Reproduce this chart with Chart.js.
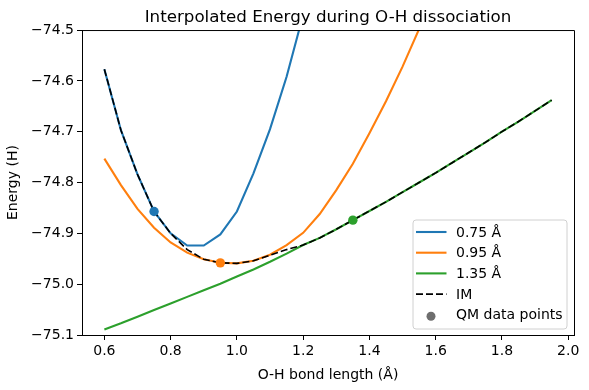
<!DOCTYPE html>
<html>
<head>
<meta charset="utf-8">
<script src="https://cdn.jsdelivr.net/npm/chart.js@4/dist/chart.umd.min.js"></script>
<style>
  html, body { margin: 0; padding: 0; background: #fff; }
</style>
</head>
<body>
<canvas id="energy-chart" width="589" height="390"></canvas>
<script>
// bond length grid (Å)
const bondLength = [0.6, 0.65, 0.7, 0.75, 0.8, 0.85, 0.9, 0.95, 1.0, 1.05, 1.1, 1.15, 1.2, 1.25,
                    1.3, 1.35, 1.4, 1.45, 1.5, 1.55, 1.6, 1.65, 1.7, 1.75, 1.8, 1.85, 1.9, 1.95];

// energies (H)
const energy075 = [-74.577, -74.697, -74.784, -74.857, -74.900, -74.924, -74.924, -74.902, -74.857, -74.782,
                   -74.695, -74.592, -74.470, -74.330, null, null, null, null, null, null,
                   null, null, null, null, null, null, null, null];
const energy095 = [-74.753, -74.805, -74.852, -74.889, -74.918, -74.938, -74.951, -74.958, -74.959, -74.954,
                   -74.942, -74.923, -74.899, -74.862, -74.815, -74.763, -74.703, -74.640, -74.572, -74.498,
                   -74.420, -74.330, null, null, null, null, null, null];
const energy135 = [-75.089, -75.077, -75.064, -75.051, -75.038, -75.025, -75.012, -74.999, -74.985, -74.971,
                   -74.956, -74.940, -74.923, -74.909, -74.892, -74.874, -74.856, -74.838, -74.819, -74.800,
                   -74.781, -74.761, -74.741, -74.721, -74.700, -74.680, -74.659, -74.638];
const energyIM  = [-74.577, -74.697, -74.784, -74.857, -74.900, -74.932, -74.951, -74.958, -74.959, -74.954,
                   -74.943, -74.932, -74.923, -74.909, -74.892, -74.874, -74.856, -74.838, -74.819, -74.800,
                   -74.781, -74.761, -74.741, -74.721, -74.700, -74.680, -74.659, -74.638];

// QM reference points
const qmBond   = [0.75, 0.95, 1.35];
const qmEnergy = [-74.857, -74.958, -74.874];

// tick labels
const xTicks = [0.6, 0.8, 1.0, 1.2, 1.4, 1.6, 1.8, 2.0];
const yTicks = [-75.1, -75.0, -74.9, -74.8, -74.7, -74.6, -74.5];

const blue = '#1f77b4', orange = '#ff7f0e', green = '#2ca02c';

function pts(ys) {
    return bondLength.map((x, i) => ({ x: x, y: ys[i] }));
}

Chart.defaults.font.family = 'DejaVu Sans';
Chart.defaults.color = '#000';

// center the title over the axes instead of the whole canvas
const titleOverAxes = {
    id: 'titleOverAxes',
    afterLayout(chart) {
        if (chart.titleBlock) {
            chart.titleBlock.left = chart.chartArea.left;
            chart.titleBlock.right = chart.chartArea.right;
        }
    }
};

// top and right spines
const frame = {
    id: 'frame',
    afterDraw(chart) {
        const { ctx, chartArea: a } = chart;
        ctx.save();
        ctx.strokeStyle = '#000';
        ctx.lineWidth = 1;
        ctx.beginPath();
        ctx.moveTo(a.left, a.top + 0.5);
        ctx.lineTo(a.right + 0.5, a.top + 0.5);
        ctx.lineTo(a.right + 0.5, a.bottom);
        ctx.stroke();
        ctx.restore();
    }
};

// matplotlib-like legend inside the axes, lower right
const legendBox = {
    id: 'legendBox',
    afterDatasetsDraw(chart) {
        const { ctx, chartArea: a } = chart;
        const w = 154, h = 109;
        const x0 = a.right - 7.5 - w, y0 = a.bottom - 6.5 - h;
        ctx.save();
        ctx.beginPath();
        ctx.roundRect(x0 + 0.5, y0 + 0.5, w, h, 3);
        ctx.fillStyle = 'rgba(255,255,255,0.8)';
        ctx.fill();
        ctx.strokeStyle = '#d0d0d0';
        ctx.lineWidth = 1;
        ctx.stroke();
        ctx.font = '14px "DejaVu Sans"';
        ctx.textBaseline = 'middle';
        chart.data.datasets.forEach((ds, i) => {
            const y = y0 + 12.5 + i * 20.7;
            if (ds.type === 'scatter') {
                ctx.beginPath();
                ctx.arc(x0 + 18.5, y + 1.5, 4.5, 0, Math.PI * 2);
                ctx.fillStyle = '#6e6e6e';
                ctx.fill();
            } else {
                ctx.beginPath();
                ctx.setLineDash(ds.borderDash || []);
                ctx.moveTo(x0 + 3.5, y);
                ctx.lineTo(x0 + 34, y);
                ctx.strokeStyle = ds.borderColor;
                ctx.lineWidth = ds.borderWidth;
                ctx.stroke();
                ctx.setLineDash([]);
            }
            ctx.fillStyle = '#000';
            ctx.fillText(ds.label, x0 + 43.5, y + 1);
        });
        ctx.restore();
    }
};

const ctx = document.getElementById('energy-chart');

new Chart(ctx, {
    type: 'line',
    data: {
        datasets: [
            { label: '0.75 Å', data: pts(energy075), borderColor: blue, borderWidth: 2.1, pointRadius: 0, order: 4, clip: 0 },
            { label: '0.95 Å', data: pts(energy095), borderColor: orange, borderWidth: 2.1, pointRadius: 0, order: 3, clip: 0 },
            { label: '1.35 Å', data: pts(energy135), borderColor: green, borderWidth: 2.1, pointRadius: 0, order: 2, clip: 0 },
            { label: 'IM', data: pts(energyIM), borderColor: '#000', borderWidth: 1.6, borderDash: [7, 3],
              pointRadius: 0, order: 1, clip: 0 },
            {
                type: 'scatter',
                label: 'QM data points',
                data: qmBond.map((x, i) => ({ x: x, y: qmEnergy[i] })),
                pointRadius: 4.7,
                pointBackgroundColor: [blue, orange, green],
                pointBorderWidth: 0,
                order: 0
            }
        ]
    },
    options: {
        responsive: false,
        animation: false,
        events: [],
        layout: { padding: { left: 0, right: 15, top: 0, bottom: 0 } },
        plugins: {
            legend: { display: false },
            tooltip: { enabled: false },
            title: {
                display: true,
                text: 'Interpolated Energy during O-H dissociation',
                color: '#000',
                font: { size: 16.7, weight: 'normal' },
                padding: { top: 8, bottom: 2 }
            }
        },
        scales: {
            x: {
                type: 'linear',
                min: 0.5325,
                max: 2.0175,
                afterBuildTicks: s => { s.ticks = xTicks.map(v => ({ value: v })); },
                afterFit: s => { s.height = 55; },
                grid: { drawOnChartArea: false, drawTicks: true, tickLength: 5, color: '#000' },
                border: { color: '#000', width: 1 },
                ticks: { color: '#000', font: { size: 14 }, padding: 3, maxRotation: 0, autoSkip: false,
                         callback: v => v.toFixed(1) },
                title: { display: true, text: 'O-H bond length (Å)', color: '#000', font: { size: 14 },
                         padding: { top: 0, bottom: 6 } }
            },
            y: {
                min: -75.1,
                max: -74.5,
                afterBuildTicks: s => { s.ticks = yTicks.map(v => ({ value: v })); },
                afterFit: s => { s.width = 82; },
                grid: { drawOnChartArea: false, drawTicks: true, tickLength: 5, color: '#000' },
                border: { color: '#000', width: 1 },
                ticks: { color: '#000', font: { size: 14 }, padding: 3, autoSkip: false,
                         callback: v => '\u2212' + Math.abs(v).toFixed(1) },
                title: { display: true, text: 'Energy (H)', color: '#000', font: { size: 14 },
                         padding: { top: 5, bottom: 4 } }
            }
        }
    },
    plugins: [titleOverAxes, frame, legendBox]
});
</script>
</body>
</html>
